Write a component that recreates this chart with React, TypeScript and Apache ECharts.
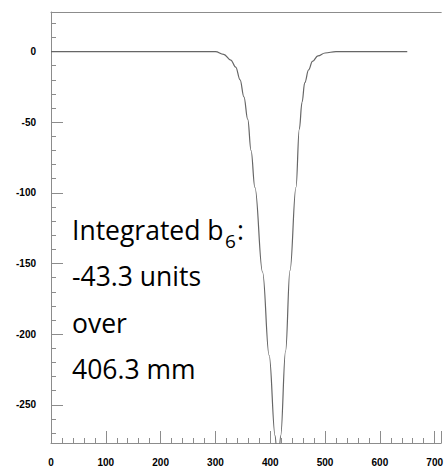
import React, { useEffect, useRef } from "react";
import * as echarts from "echarts";

const xValues = [0, 250, 300, 315, 328, 337, 345, 352, 359, 365, 372, 386, 398, 409, 414, 419, 428, 436, 447, 453, 458, 463, 470, 477, 487, 500, 520, 650];
const yValues = [0, 0, 0, -2, -6, -11, -20, -32, -48, -70, -96, -156, -215, -272, -300, -272, -212, -155, -96, -55, -36, -22, -13, -7, -3, -1, 0, 0];
const yMajorTicks = [-250, -200, -150, -100, -50, 0];
const yMinorTicks = [-270, -260, -240, -230, -220, -210, -190, -180, -170, -160, -140, -130, -120, -110, -90, -80, -70, -60, -40, -30, -20, -10, 10, 20];
const annotationLines = ["-43.3 units", "over", "406.3 mm"];

const AXIS = "#8c8c8c";
const LABEL_FONT = { fontFamily: "Liberation Sans", fontWeight: "bold" as const, fontSize: 10, color: "#000" };
const TEXT_FONT = "'Open Sans'";

export default function App() {
  const ref = useRef<HTMLDivElement>(null);
  useEffect(() => {
    if (!ref.current) return;
    const chart = echarts.init(ref.current, null, { renderer: "svg" });
    const yMin = -277;
    const yMax = 28;
    const fs = 26.5;
    const off = 0.388 * fs;
    const subFs = 19;
    const baselines = [286, 333, 379];
    chart.setOption({
      animation: false,
      backgroundColor: "#fff",
      grid: { left: 51, top: 12, right: 0, bottom: 26 },
      xAxis: [
        {
          type: "value",
          min: 0,
          max: 712,
          interval: 100,
          axisLine: { show: true, onZero: false, lineStyle: { color: AXIS, width: 1 } },
          axisTick: { show: true, inside: true, length: 12, lineStyle: { color: AXIS } },
          minorTick: { show: true, splitNumber: 5, length: 5, lineStyle: { color: AXIS } },
          splitLine: { show: false },
          axisLabel: { ...LABEL_FONT, margin: 14, showMaxLabel: false },
        },
        {
          type: "value",
          position: "top",
          min: 0,
          max: 712,
          axisLine: { show: true, onZero: false, lineStyle: { color: AXIS, width: 1 } },
          axisTick: { show: false },
          axisLabel: { show: false },
          splitLine: { show: false },
        },
      ],
      yAxis: [
        {
          type: "value",
          position: "left",
          min: yMin,
          max: yMax,
          axisLine: { show: true, onZero: false, lineStyle: { color: AXIS, width: 1 } },
          axisTick: { show: true, inside: true, length: 12, customValues: yMajorTicks, lineStyle: { color: AXIS } },
          axisLabel: { ...LABEL_FONT, margin: 15, customValues: yMajorTicks },
          splitLine: { show: false },
        },
        {
          type: "value",
          position: "left",
          offset: 0,
          min: yMin,
          max: yMax,
          axisLine: { show: false, onZero: false },
          axisTick: { show: true, inside: true, length: 5, customValues: yMinorTicks, lineStyle: { color: AXIS } },
          axisLabel: { show: false },
          splitLine: { show: false },
        },
      ],
      series: [
        {
          type: "line",
          data: xValues.map((x, i) => [x, yValues[i]]),
          showSymbol: false,
          smooth: 0.4,
          smoothMonotone: "x",
          clip: true,
          lineStyle: { color: "#666", width: 1.2 },
        },
      ],
      graphic: [
        {
          type: "text",
          left: 72,
          top: 240 - off - fs / 2,
          style: { text: "Integrated b", font: `${fs}px ${TEXT_FONT}`, fill: "#000" },
        },
        {
          type: "text",
          left: 225,
          top: 248 - 0.388 * subFs - subFs / 2,
          style: { text: "6", font: `${subFs}px ${TEXT_FONT}`, fill: "#000" },
        },
        {
          type: "text",
          left: 237,
          top: 240 - off - fs / 2,
          style: { text: ":", font: `${fs}px ${TEXT_FONT}`, fill: "#000" },
        },
        ...annotationLines.map((t, i) => ({
          type: "text",
          left: 72,
          top: baselines[i] - off - fs / 2,
          style: { text: t, font: `${fs}px ${TEXT_FONT}`, fill: "#000" },
        })),
      ],
    });
    return () => chart.dispose();
  }, []);
  return <div ref={ref} style={{ position: "fixed", left: 0, top: 0, width: 446, height: 469 }} />;
}
